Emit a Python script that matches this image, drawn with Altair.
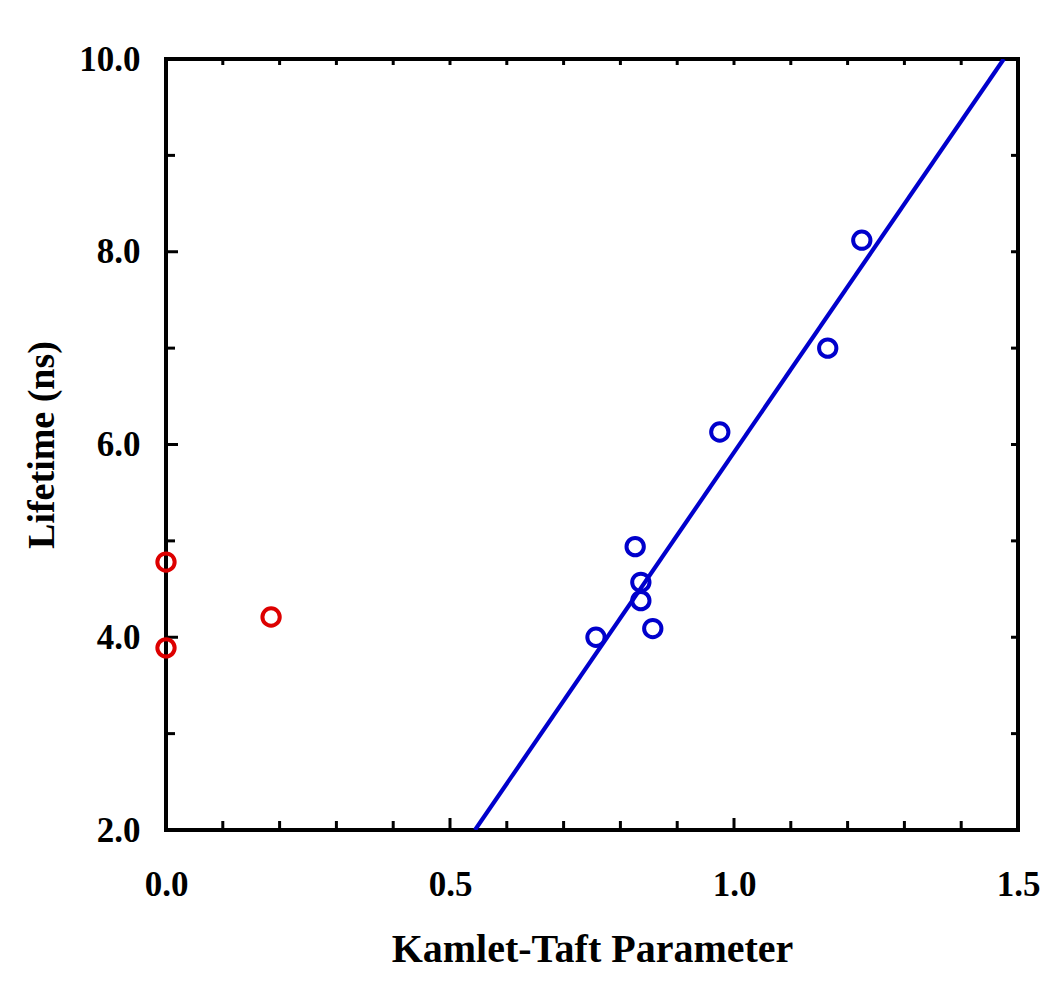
import altair as alt
import pandas as pd

# --- data ---
red_x = [0.0, 0.0, 0.185]
red_y = [4.78, 3.89, 4.21]
blue_x = [0.757, 0.826, 0.836, 0.836, 0.857, 0.975, 1.165, 1.225]
blue_y = [4.00, 4.94, 4.57, 4.38, 4.09, 6.13, 7.00, 8.12]
fit_x = [0.544, 1.475]
fit_y = [2.0, 10.0]

x_labels = [0.0, 0.5, 1.0, 1.5]
y_labels = [2.0, 4.0, 6.0, 8.0, 10.0]
x_minor = [0.1, 0.2, 0.3, 0.4, 0.6, 0.7, 0.8, 0.9, 1.1, 1.2, 1.3, 1.4]
x_major = [0.5, 1.0]
y_minor = [3.0, 5.0, 7.0, 9.0]
y_major = [4.0, 6.0, 8.0]

FONT = "Liberation Serif"
BLUE = "#0000cc"
RED = "#dd0000"
W, H = 852, 771

xs = alt.Scale(domain=[0, 1.5], nice=False, zero=False)
ys = alt.Scale(domain=[2, 10], nice=False, zero=False)

red_df = pd.DataFrame({"x": red_x, "y": red_y})
blue_df = pd.DataFrame({"x": blue_x, "y": blue_y})
fit_df = pd.DataFrame({"x": fit_x, "y": fit_y})

xaxis = alt.Axis(values=x_labels, format=".1f", title="Kamlet-Taft Parameter",
                 labelFont=FONT, labelFontWeight="bold", labelFontSize=35,
                 titleFont=FONT, titleFontWeight="bold", titleFontSize=40,
                 ticks=False, domain=False, grid=False, labelPadding=37,
                 labelFlush=False, labelOverlap=False,
                 titlePadding=27, labelColor="black", titleColor="black")
yaxis = alt.Axis(values=y_labels, format=".1f", title="Lifetime (ns)",
                 labelFont=FONT, labelFontWeight="bold", labelFontSize=35,
                 titleFont=FONT, titleFontWeight="bold", titleFontSize=38,
                 ticks=False, domain=False, grid=False, labelPadding=26,
                 labelFlush=False, labelOverlap=False,
                 titlePadding=17, labelColor="black", titleColor="black")

fit = alt.Chart(fit_df).mark_line(color=BLUE, strokeWidth=4.2, clip=True).encode(
    x=alt.X("x:Q", scale=xs, axis=xaxis),
    y=alt.Y("y:Q", scale=ys, axis=yaxis),
)
blue = alt.Chart(blue_df).mark_point(shape="circle", filled=False, color=BLUE,
                                     opacity=1, size=300, strokeWidth=4).encode(
    x=alt.X("x:Q", scale=xs), y=alt.Y("y:Q", scale=ys))
red = alt.Chart(red_df).mark_point(shape="circle", filled=False, color=RED,
                                   opacity=1, size=300, strokeWidth=4).encode(
    x=alt.X("x:Q", scale=xs), y=alt.Y("y:Q", scale=ys))


def xticks(vals, at, length, sign):
    df = pd.DataFrame({"x": vals})
    return alt.Chart(df).mark_tick(color="black", thickness=3, size=length, opacity=1,
                                   orient="vertical", yOffset=sign * length / 2).encode(
        x=alt.X("x:Q", scale=xs), y=alt.datum(at, scale=ys))


def yticks(vals, at, length, sign):
    df = pd.DataFrame({"y": vals})
    return alt.Chart(df).mark_tick(color="black", thickness=3, size=length, opacity=1,
                                   orient="horizontal", xOffset=sign * length / 2).encode(
        y=alt.Y("y:Q", scale=ys), x=alt.datum(at, scale=xs))


ticks = [
    xticks(x_minor, 2.0, 9, -1),
    xticks(x_major, 2.0, 12, -1),
    xticks(x_minor + x_major, 10.0, 6, 1),
    yticks(y_minor, 0.0, 9, 1),
    yticks(y_major, 0.0, 12, 1),
    yticks(y_minor + y_major, 1.5, 7, -1),
]

chart = alt.layer(fit, *ticks, red, blue).properties(
    width=W, height=H,
    background="white",
    autosize=alt.AutoSizeParams(type="none"),
    padding={"left": 158, "top": 51, "right": 24, "bottom": 150},
).configure_view(stroke="black", strokeWidth=4, strokeOpacity=1)

chart.save("out.html", embed_options={"renderer": "svg", "actions": False})
